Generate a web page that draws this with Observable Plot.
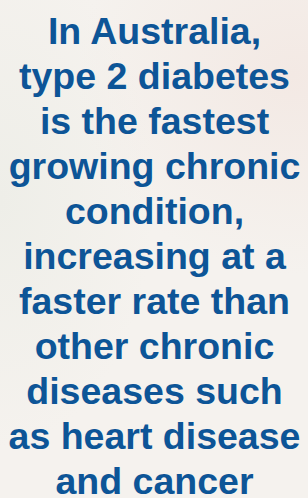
<!DOCTYPE html>
<html>
<head>
<meta charset="utf-8">
<script src="https://cdn.jsdelivr.net/npm/d3@7"></script>
<script src="https://cdn.jsdelivr.net/npm/@observablehq/plot@0.6"></script>
<style>
  html, body { margin: 0; padding: 0; }
  body {
    width: 308px; height: 498px; overflow: hidden;
    background: radial-gradient(ellipse 70% 40% at 95% 15%, #f3e9e4 0%, rgba(243,233,228,0) 100%),
                radial-gradient(ellipse 50% 50% at 0% 40%, #eeeee8 0%, rgba(238,238,232,0) 100%),
                #f5f2ee;
  }
</style>
</head>
<body>
<div id="chart"></div>
<script>
const lines = [
  "In Australia,",
  "type 2 diabetes",
  "is the fastest",
  "growing chronic",
  "condition,",
  "increasing at a",
  "faster rate than",
  "other chronic",
  "diseases such",
  "as heart disease",
  "and cancer"
];
const lineIndex = lines.map((_, i) => i);

const chart = Plot.plot({
  width: 308,
  height: 498,
  margin: 0,
  style: { background: "transparent" },
  x: { domain: [0, 1], range: [0, 308], axis: null },
  y: { type: "point", domain: lineIndex, range: [31, 481], padding: 0, axis: null },
  marks: [
    Plot.text(lines, {
      x: () => 0.5,
      y: (d, i) => i,
      text: d => d,
      textAnchor: "middle",
      fontSize: 37.5,
      fontWeight: "bold",
      fontFamily: "Liberation Sans, Arial, Helvetica, sans-serif",
      fill: "#0d5597"
    })
  ]
});
document.getElementById("chart").appendChild(chart);
</script>
</body>
</html>
